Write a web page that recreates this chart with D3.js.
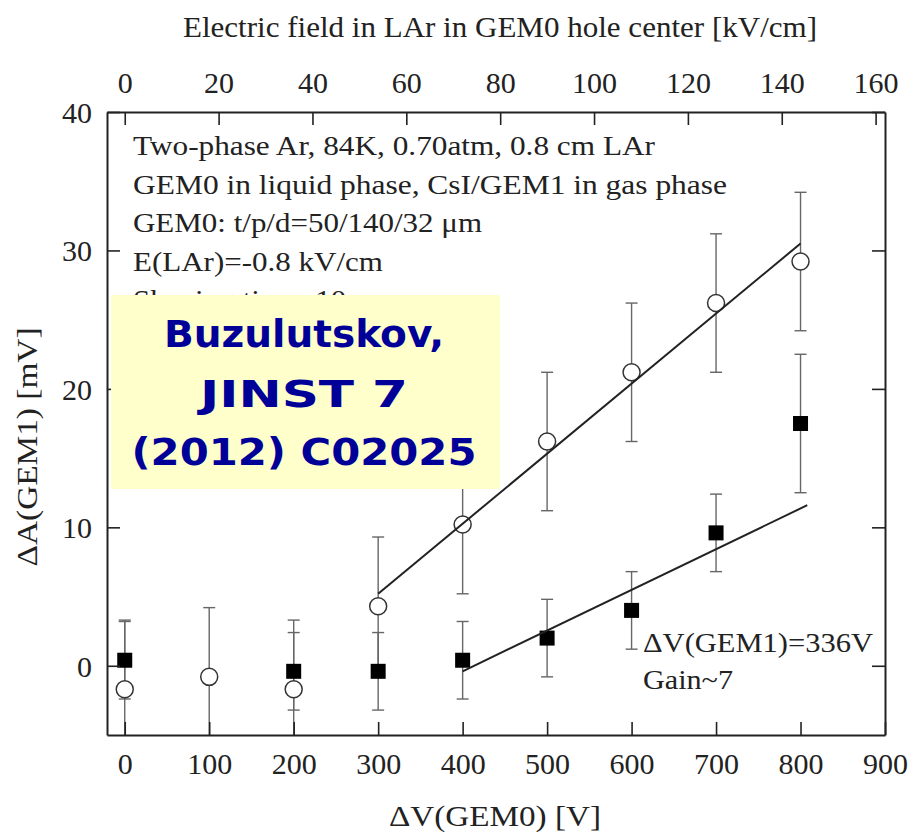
<!DOCTYPE html>
<html>
<head>
<meta charset="utf-8">
<script src="https://cdn.jsdelivr.net/npm/d3@7"></script>
<style>
  html, body { margin: 0; padding: 0; background: #fff; }
  svg { display: block; }
  text { font-family: "Liberation Serif", "Times New Roman", serif; fill: #222; }
</style>
</head>
<body>
<svg id="chart" width="912" height="836"></svg>
<script>
// ---------- data ----------
const dvOpen = [0, 100, 200, 300, 400, 500, 600, 700, 800];
const openVals = [-1.7, -0.8, -1.7, 4.3, 10.2, 16.2, 21.2, 26.2, 29.2];
const openErr = [5, 5, 5, 5, 5, 5, 5, 5, 5];

const dvSquare = [0, 200, 300, 400, 500, 600, 700, 800];
const squareVals = [0.4, -0.4, -0.4, 0.4, 2.0, 4.0, 9.6, 17.5];
const squareErr = [2.8, 2.8, 2.8, 2.8, 2.8, 2.8, 2.8, 5.0];

const fitOpenX = [300, 800];
const fitOpenY = [5.2, 30.5];
const fitSquareX = [400, 808];
const fitSquareY = [-0.4, 11.6];

const xTicks = [0, 100, 200, 300, 400, 500, 600, 700, 800, 900];
const yTicks = [0, 10, 20, 30, 40];
const topTicks = [0, 20, 40, 60, 80, 100, 120, 140, 160];
const fieldPerVolt = 0.18; // kV/cm per V

const xTitle = "ΔV(GEM0) [V]";
const yTitle = "ΔA(GEM1) [mV]";
const topTitle = "Electric field in LAr in GEM0 hole center [kV/cm]";
const infoLines = [
  "Two-phase Ar, 84K, 0.70atm, 0.8 cm LAr",
  "GEM0 in liquid  phase, CsI/GEM1 in gas phase",
  "GEM0: t/p/d=50/140/32 μm",
  "E(LAr)=-0.8 kV/cm",
  "Shaping time=10 μs"
];
const infoWidths = [522, 594, 349, 250, null];
const noteLines = ["ΔV(GEM1)=336V", "Gain~7"];
const citeLines = ["Buzulutskov,", "JINST 7", "(2012) C02025"];

// ---------- layout ----------
const L = 107, R = 885, T = 112, B = 735;
const svg = d3.select("#chart");

const x = d3.scaleLinear().domain([-21, 900]).range([L, R]);
const y = d3.scaleLinear().domain([-5, 40]).range([B, T]);
const xTop = d3.scaleLinear().domain([-21 * fieldPerVolt, 900 * fieldPerVolt]).range([L, R]);

svg.append("defs").append("clipPath").attr("id", "clip")
  .append("rect").attr("x", L).attr("y", T).attr("width", R - L).attr("height", B - T);

const plot = svg.append("g").attr("clip-path", "url(#clip)");

// error bars
function errorBars(xs, vals, errs) {
  const g = plot.append("g").attr("stroke", "#666").attr("stroke-width", 1.4).attr("fill", "none");
  xs.forEach((xv, i) => {
    const cx = x(xv), y1 = y(vals[i] + errs[i]), y0 = y(vals[i] - errs[i]);
    g.append("line").attr("x1", cx).attr("x2", cx).attr("y1", y1).attr("y2", y0);
    g.append("line").attr("x1", cx - 6).attr("x2", cx + 6).attr("y1", y1).attr("y2", y1);
    g.append("line").attr("x1", cx - 6).attr("x2", cx + 6).attr("y1", y0).attr("y2", y0);
  });
}
errorBars(dvOpen, openVals, openErr);
errorBars(dvSquare, squareVals, squareErr);

// markers
plot.append("g").selectAll("circle").data(dvOpen).join("circle")
  .attr("cx", d => x(d)).attr("cy", (d, i) => y(openVals[i])).attr("r", 8.5)
  .attr("fill", "#fff").attr("stroke", "#333").attr("stroke-width", 1.5);
plot.append("g").selectAll("rect").data(dvSquare).join("rect")
  .attr("x", d => x(d) - 7.5).attr("y", (d, i) => y(squareVals[i]) - 7.5)
  .attr("width", 15).attr("height", 15).attr("fill", "#000");

// fit lines
const line = d3.line().x(d => x(d[0])).y(d => y(d[1]));
plot.append("path").attr("d", line(d3.zip(fitOpenX, fitOpenY)))
  .attr("stroke", "#222").attr("stroke-width", 2).attr("fill", "none");
plot.append("path").attr("d", line(d3.zip(fitSquareX, fitSquareY)))
  .attr("stroke", "#222").attr("stroke-width", 2).attr("fill", "none");

// axes
function styleAxis(g) {
  g.select(".domain").attr("stroke", "#222").attr("stroke-width", 2);
  g.selectAll(".tick line").attr("stroke", "#222").attr("stroke-width", 1.6);
  g.selectAll(".tick text").attr("font-family", "Liberation Serif, serif").attr("font-size", 30).attr("fill", "#222");
}
const gB = svg.append("g").attr("transform", `translate(0,${B})`)
  .call(d3.axisBottom(x).tickValues(xTicks).tickSize(-13).tickSizeOuter(0));
styleAxis(gB);
gB.selectAll(".tick text").attr("y", 39).attr("dy", 0);

const gT = svg.append("g").attr("transform", `translate(0,${T})`)
  .call(d3.axisTop(xTop).tickValues(topTicks).tickSize(-13).tickSizeOuter(0));
styleAxis(gT);
gT.selectAll(".tick text").attr("y", -19).attr("dy", 0);

const gL = svg.append("g").attr("transform", `translate(${L},0)`)
  .call(d3.axisLeft(y).tickValues(yTicks).tickSize(-13).tickSizeOuter(0));
styleAxis(gL);
gL.selectAll(".tick text").attr("x", -15).attr("dy", "0.35em");

const gR = svg.append("g").attr("transform", `translate(${R},0)`)
  .call(d3.axisRight(y).tickValues(yTicks).tickSize(-13).tickSizeOuter(0).tickFormat(""));
styleAxis(gR);

// axis titles
svg.append("text").attr("x", 500).attr("y", 37).attr("text-anchor", "middle")
  .attr("font-size", 30).attr("textLength", 634).attr("lengthAdjust", "spacingAndGlyphs").text(topTitle);
svg.append("text").attr("x", 495).attr("y", 826).attr("text-anchor", "middle")
  .attr("font-size", 29).attr("textLength", 212).attr("lengthAdjust", "spacingAndGlyphs").text(xTitle);
svg.append("text").attr("transform", "translate(37,447) rotate(-90)").attr("text-anchor", "middle")
  .attr("font-size", 30).attr("textLength", 239).attr("lengthAdjust", "spacingAndGlyphs").text(yTitle);

// info text
const infoBase = 155, infoStep = 38.5;
infoLines.forEach((t, i) => {
  const el = svg.append("text").attr("x", 133).attr("y", infoBase + i * infoStep)
    .attr("font-size", 27).text(t);
  const w = infoWidths[i];
  if (w) el.attr("textLength", w).attr("lengthAdjust", "spacingAndGlyphs");
  else el.attr("textLength", el.node().getComputedTextLength() * 1.15).attr("lengthAdjust", "spacingAndGlyphs");
});

// note
svg.append("text").attr("x", 643).attr("y", 652).attr("font-size", 27)
  .attr("textLength", 230).attr("lengthAdjust", "spacingAndGlyphs").text(noteLines[0]);
svg.append("text").attr("x", 643).attr("y", 689).attr("font-size", 27)
  .attr("textLength", 90).attr("lengthAdjust", "spacingAndGlyphs").text(noteLines[1]);

// citation box
svg.append("rect").attr("x", 111).attr("y", 295).attr("width", 389).attr("height", 194)
  .attr("fill", "#ffffcc");
const citeY = [347, 407, 465];
const citeW = [280, 208, 345];
citeLines.forEach((t, i) => {
  svg.append("text").attr("x", 304).attr("y", citeY[i]).attr("text-anchor", "middle")
    .style("font-family", "'DejaVu Sans', sans-serif").style("font-weight", "bold")
    .style("fill", "#000099").attr("font-size", 37)
    .attr("textLength", citeW[i]).attr("lengthAdjust", "spacingAndGlyphs").text(t);
});
</script>
</body>
</html>
